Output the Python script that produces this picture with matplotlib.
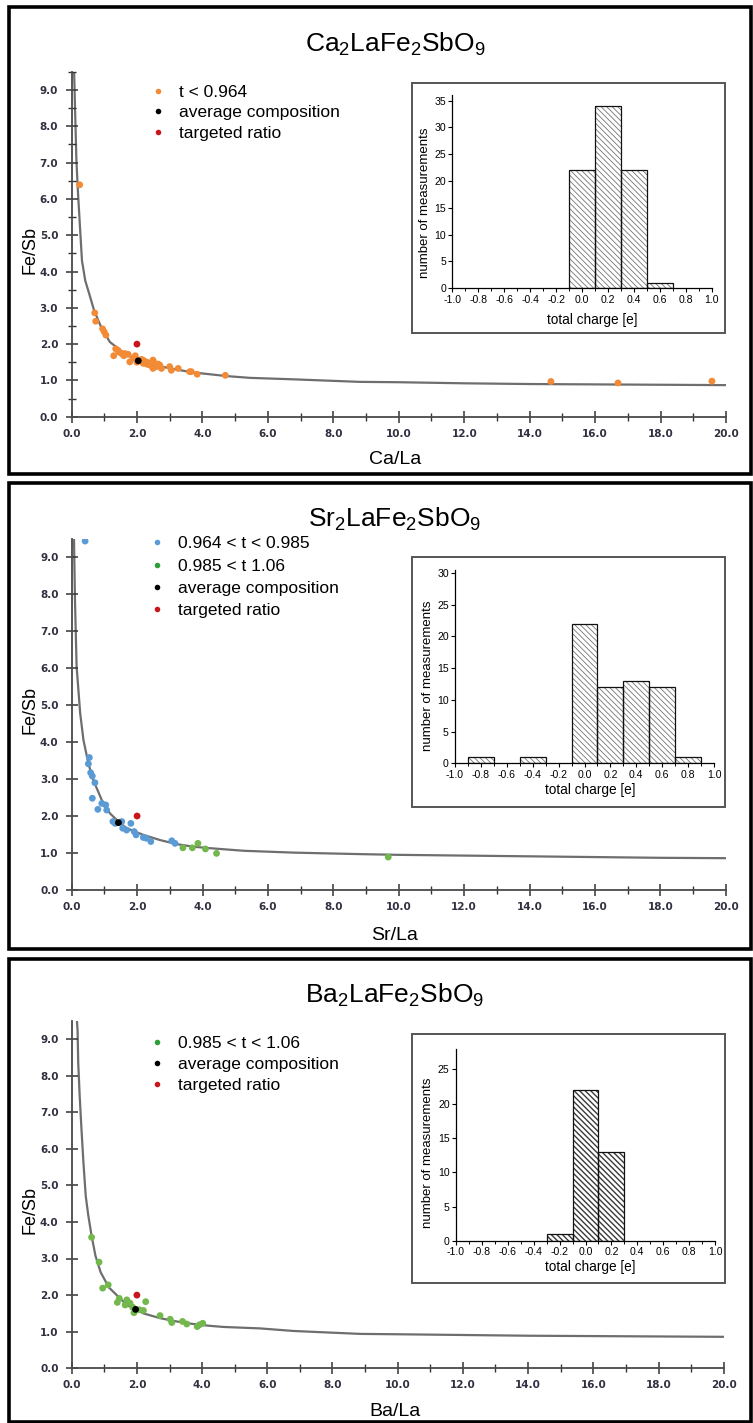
import matplotlib
matplotlib.use("Agg")
import matplotlib.pyplot as plt
from matplotlib.lines import Line2D
from matplotlib.patches import Rectangle
from matplotlib.ticker import MultipleLocator, FormatStrFormatter

# ---------------------------------------------------------------- data
# Ca2LaFe2SbO9
ca_x = [0.25, 0.71, 0.74, 0.95, 1.00, 1.05, 1.35, 1.42, 1.29, 1.45, 1.53, 1.60, 1.63,
        1.73, 1.78, 1.88, 1.95, 2.00, 2.14, 2.19, 2.20, 2.29, 2.30, 2.39, 2.45, 2.49,
        2.49, 2.54, 2.60, 2.65, 2.70, 2.75, 3.00, 3.05, 3.26, 3.61, 3.66, 3.84, 4.70,
        14.65, 16.70, 19.57]
ca_y = [6.39, 2.86, 2.63, 2.42, 2.34, 2.25, 1.87, 1.83, 1.68, 1.78, 1.74, 1.68, 1.74,
        1.72, 1.51, 1.61, 1.68, 1.50, 1.58, 1.47, 1.55, 1.51, 1.45, 1.42, 1.50, 1.56,
        1.33, 1.47, 1.38, 1.45, 1.42, 1.33, 1.38, 1.28, 1.33, 1.24, 1.24, 1.17, 1.14,
        0.97, 0.93, 0.98]
ca_avg = (2.04, 1.54)
ca_curve_x = [0.08, 0.11, 0.15, 0.20, 0.26, 0.32, 0.42, 0.54, 0.69, 0.90, 1.17, 1.68,
              2.19, 2.70, 3.20, 3.71, 4.22, 4.73, 5.45, 6.77, 8.80, 10.0, 12.0, 14.0,
              16.0, 18.0, 20.0]
ca_curve_y = [9.50, 8.43, 7.06, 6.14, 5.22, 4.30, 3.75, 3.39, 2.93, 2.48, 2.06, 1.70,
              1.51, 1.39, 1.30, 1.22, 1.17, 1.12, 1.07, 1.03, 0.96, 0.95, 0.92, 0.90,
              0.89, 0.88, 0.87]
ca_hist_centers = [0.0, 0.2, 0.4, 0.6]
ca_hist_counts = [22, 34, 22, 1]

# Sr2LaFe2SbO9
sr_blue_x = [0.41, 0.54, 0.51, 0.58, 0.63, 0.71, 0.63, 0.80, 0.92, 1.04, 1.07, 1.26,
             1.33, 1.53, 1.56, 1.68, 1.81, 1.91, 1.97, 2.19, 2.28, 2.42, 3.06, 3.16]
sr_blue_y = [9.43, 3.58, 3.41, 3.17, 3.08, 2.90, 2.48, 2.18, 2.34, 2.30, 2.16, 1.85,
             1.80, 1.85, 1.67, 1.62, 1.80, 1.58, 1.49, 1.42, 1.40, 1.31, 1.33, 1.26]
sr_green_x = [3.40, 3.69, 3.86, 4.09, 4.43, 9.68]
sr_green_y = [1.14, 1.14, 1.26, 1.11, 0.99, 0.89]
sr_avg = (1.43, 1.82)
sr_curve_x = [0.07, 0.10, 0.15, 0.26, 0.36, 0.51, 0.66, 0.92, 1.17, 1.43, 1.68, 2.19,
              2.70, 3.21, 3.72, 4.23, 5.26, 6.80, 8.80, 10.0, 12.0, 14.0, 16.0, 18.0, 20.0]
sr_curve_y = [9.50, 7.84, 6.04, 4.77, 4.05, 3.42, 2.97, 2.43, 2.07, 1.85, 1.67, 1.49,
              1.35, 1.24, 1.17, 1.13, 1.06, 1.01, 0.97, 0.95, 0.93, 0.91, 0.89, 0.87, 0.86]
sr_hist_centers = [-0.8, -0.4, 0.0, 0.2, 0.4, 0.6, 0.8]
sr_hist_counts = [1, 1, 22, 12, 13, 12, 1]

# Ba2LaFe2SbO9
ba_x = [0.61, 0.84, 0.95, 1.12, 1.40, 1.46, 1.64, 1.69, 1.79, 1.87, 1.91, 2.07, 2.20,
        2.27, 2.71, 3.02, 3.07, 3.40, 3.53, 3.85, 3.92, 4.02]
ba_y = [3.58, 2.90, 2.19, 2.28, 1.80, 1.91, 1.73, 1.87, 1.78, 1.67, 1.52, 1.60, 1.58,
        1.82, 1.44, 1.34, 1.25, 1.28, 1.21, 1.14, 1.19, 1.23]
ba_avg = (1.96, 1.61)
ba_curve_x = [0.16, 0.18, 0.20, 0.245, 0.30, 0.36, 0.43, 0.51, 0.61, 0.73, 0.89, 1.14,
              1.69, 2.20, 2.71, 3.22, 3.73, 4.24, 4.65, 5.78, 6.80, 7.82, 8.85, 10.0,
              12.0, 14.0, 16.0, 18.0, 20.0]
ba_curve_y = [9.50, 9.24, 8.35, 7.44, 6.53, 5.62, 4.71, 4.17, 3.62, 3.07, 2.62, 2.21,
              1.73, 1.50, 1.37, 1.28, 1.21, 1.16, 1.13, 1.09, 1.02, 0.98, 0.94, 0.93,
              0.91, 0.89, 0.88, 0.87, 0.86]
ba_hist_centers = [-0.2, 0.0, 0.2]
ba_hist_counts = [1, 22, 13]

target_ratio = (2.0, 2.0)

titles = [r"$\mathregular{Ca_2LaFe_2SbO_9}$",
          r"$\mathregular{Sr_2LaFe_2SbO_9}$",
          r"$\mathregular{Ba_2LaFe_2SbO_9}$"]
xlabels = ["Ca/La", "Sr/La", "Ba/La"]

ORANGE = "#F28A36"
BLUE = "#5B9BD5"
GREEN = "#72B84C"
GREEN_KEY = "#2E9E3A"
RED = "#C8161D"

# ---------------------------------------------------------------- style
W, H = 753, 1423
plt.rcParams["font.family"] = ["Liberation Sans", "DejaVu Sans"]
plt.rcParams["axes.unicode_minus"] = False
plt.rcParams["hatch.linewidth"] = 0.6

fig = plt.figure(figsize=(W / 100, H / 100), dpi=100)


def rect(l, t, r, b):
    return [l / W, 1 - b / H, (r - l) / W, (b - t) / H]


def frame(l, t, r, b, lw, color):
    fig.patches.append(Rectangle((l / W, 1 - b / H), (r - l) / W, (b - t) / H,
                                 transform=fig.transFigure, fill=False,
                                 lw=lw, edgecolor=color, zorder=5))


def main_panel(box, curve_x, curve_y, xlabel, y_minor, xlab_y, ylab_y):
    l, t, r, b = box
    ax = fig.add_axes(rect(l, t, r, b))
    ax.patch.set_alpha(0)
    ax.plot(curve_x, curve_y, color="#6e6e6e", lw=1.6, zorder=1,
            solid_joinstyle="round")
    ax.set_xlim(0, 20)
    ax.set_ylim(0, 9.5)
    for s in ("top", "right"):
        ax.spines[s].set_visible(False)
    for s in ("left", "bottom"):
        ax.spines[s].set_color("#4a4a4a")
        ax.spines[s].set_linewidth(1.3)
    ax.xaxis.set_major_locator(MultipleLocator(2))
    ax.xaxis.set_minor_locator(MultipleLocator(1))
    ax.yaxis.set_major_locator(MultipleLocator(1))
    if y_minor:
        ax.yaxis.set_minor_locator(MultipleLocator(0.5))
    fmt = FormatStrFormatter("%.1f")
    ax.xaxis.set_major_formatter(fmt)
    ax.yaxis.set_major_formatter(fmt)
    ax.tick_params(which="major", direction="inout", length=9, width=1.1,
                   color="#333333", labelsize=7.5, labelcolor="#303040")
    ax.tick_params(which="minor", direction="inout", length=6, width=1.0,
                   color="#333333")
    ax.tick_params(axis="x", pad=4)
    ax.tick_params(axis="y", pad=5)
    for lab in ax.get_xticklabels() + ax.get_yticklabels():
        lab.set_fontfamily("DejaVu Sans")
        lab.set_fontweight("bold")
    ax.set_xlabel(xlabel, fontsize=14, va="center")
    ax.set_ylabel("Fe/Sb", fontsize=13, va="center")
    ax.xaxis.set_label_coords((395 - l) / (r - l), (b - xlab_y) / (b - t))
    ax.yaxis.set_label_coords((30 - l) / (r - l), (b - ylab_y) / (b - t))
    return ax


def add_legend(ax, entries, marker_x, row1_y, spacing):
    fs = 12.5
    fs_px = fs * 100 / 72
    handles = [Line2D([], [], ls="none", marker="o", ms=4.0, mec="none", mfc=c)
               for c, _ in entries]
    labels = [lab for _, lab in entries]
    anchor_x = (marker_x - fs_px * 0.5) / W
    anchor_y = 1 - (row1_y - 6.5) / H
    ax.legend(handles, labels, loc="upper left",
              bbox_to_anchor=(anchor_x, anchor_y), bbox_transform=fig.transFigure,
              frameon=False, fontsize=fs, handlelength=1.0, handletextpad=0.7,
              borderpad=0, borderaxespad=0, labelspacing=spacing)


def inset(box, frame_box, centers, counts, ymax, hatch_color, hatch_lw,
          ylab_xy, xlab_xy):
    l, t, r, b = box
    ax = fig.add_axes(rect(l, t, r, b))
    ax.patch.set_alpha(0)
    bars = ax.bar(centers, counts, width=0.2, facecolor="white",
                  edgecolor=hatch_color, hatch="\\\\\\\\\\\\", lw=0, zorder=2)
    for p in bars.patches:
        if hasattr(p, "set_hatch_linewidth"):
            p.set_hatch_linewidth(hatch_lw)
    ax.bar(centers, counts, width=0.2, facecolor="none", edgecolor="#111111",
           lw=0.9, zorder=3)
    ax.set_xlim(-1, 1)
    ax.set_ylim(0, ymax)
    for s in ("top", "right"):
        ax.spines[s].set_visible(False)
    for s in ("left", "bottom"):
        ax.spines[s].set_linewidth(0.9)
    ax.xaxis.set_major_locator(MultipleLocator(0.2))
    ax.xaxis.set_minor_locator(MultipleLocator(0.1))
    ax.xaxis.set_major_formatter(FormatStrFormatter("%.1f"))
    ax.yaxis.set_major_locator(MultipleLocator(5))
    ax.tick_params(which="major", direction="out", length=3, width=0.8,
                   labelsize=7.6, pad=1.5)
    ax.tick_params(which="minor", direction="out", length=1.8, width=0.7)
    ax.set_ylabel("number of measurements", fontsize=9.5, va="center")
    ax.set_xlabel("total charge [e]", fontsize=9.8, va="center")
    ax.yaxis.set_label_coords((ylab_xy[0] - l) / (r - l), (b - ylab_xy[1]) / (b - t))
    ax.xaxis.set_label_coords((xlab_xy[0] - l) / (r - l), (b - xlab_xy[1]) / (b - t))
    fl, ft, fr, fb = frame_box
    frame(fl, ft, fr, fb, 1.4, "#555555")
    return ax


def scatter(ax, x, y, color, z=3):
    ax.scatter(x, y, s=24, color=color, edgecolors="none", zorder=z)


# ---------------------------------------------------------------- panel frames
frame(8.5, 7.5, 750.5, 474.5, 2.6, "black")
frame(8.5, 482.5, 750.5, 948.5, 2.6, "black")
frame(8.5, 958.5, 750.5, 1421.5, 2.6, "black")

# ---------------------------------------------------------------- Ca panel
fig.text(395 / W, 1 - 44 / H, titles[0], fontsize=19, ha="center", va="center")
ax1 = main_panel((71.5, 71.9, 726, 416.7), ca_curve_x, ca_curve_y, xlabels[0],
                 True, 460, 250)
scatter(ax1, ca_x, ca_y, ORANGE)
scatter(ax1, [target_ratio[0]], [target_ratio[1]], RED, 4)
scatter(ax1, [ca_avg[0]], [ca_avg[1]], "black", 4)
add_legend(ax1, [(ORANGE, "t < 0.964"), ("black", "average composition"),
                 (RED, "targeted ratio")], 158.3, 91, 0.32)
inset((452.3, 95.3, 711.7, 288.3), (412, 82.7, 725, 333), ca_hist_centers,
      ca_hist_counts, 36, "#747474", 0.6, (425, 203), (592, 320))

# ---------------------------------------------------------------- Sr panel
fig.text(395 / W, 1 - 519 / H, titles[1], fontsize=19, ha="center", va="center")
ax2 = main_panel((71.7, 538.5, 725.7, 890), sr_curve_x, sr_curve_y, xlabels[1],
                 False, 935, 710)
scatter(ax2, sr_blue_x, sr_blue_y, BLUE)
scatter(ax2, sr_green_x, sr_green_y, GREEN)
scatter(ax2, [target_ratio[0]], [target_ratio[1]], RED, 4)
scatter(ax2, [sr_avg[0]], [sr_avg[1]], "black", 4)
add_legend(ax2, [(BLUE, "0.964 < t < 0.985"), (GREEN_KEY, "0.985 < t 1.06"),
                 ("black", "average composition"), (RED, "targeted ratio")],
           156.7, 542.7, 0.41)
inset((455, 569.6, 714, 763.3), (412, 556.7, 725, 807), sr_hist_centers,
      sr_hist_counts, 30.5, "#747474", 0.6, (428, 676), (590, 790))

# ---------------------------------------------------------------- Ba panel
fig.text(395 / W, 1 - 995 / H, titles[2], fontsize=19, ha="center", va="center")
ax3 = main_panel((71.7, 1020.6, 723.7, 1368.3), ba_curve_x, ba_curve_y, xlabels[2],
                 False, 1411, 1210)
scatter(ax3, ba_x, ba_y, GREEN)
scatter(ax3, [target_ratio[0]], [target_ratio[1]], RED, 4)
scatter(ax3, [ba_avg[0]], [ba_avg[1]], "black", 4)
add_legend(ax3, [(GREEN_KEY, "0.985 < t < 1.06"), ("black", "average composition"),
                 (RED, "targeted ratio")], 156.7, 1042.7, 0.32)
inset((456, 1048.6, 715, 1241), (412, 1034, 725, 1283), ba_hist_centers,
      ba_hist_counts, 28, "#3a3a3a", 1.0, (428, 1153), (590, 1267))

fig.savefig("out.png", dpi=100)
